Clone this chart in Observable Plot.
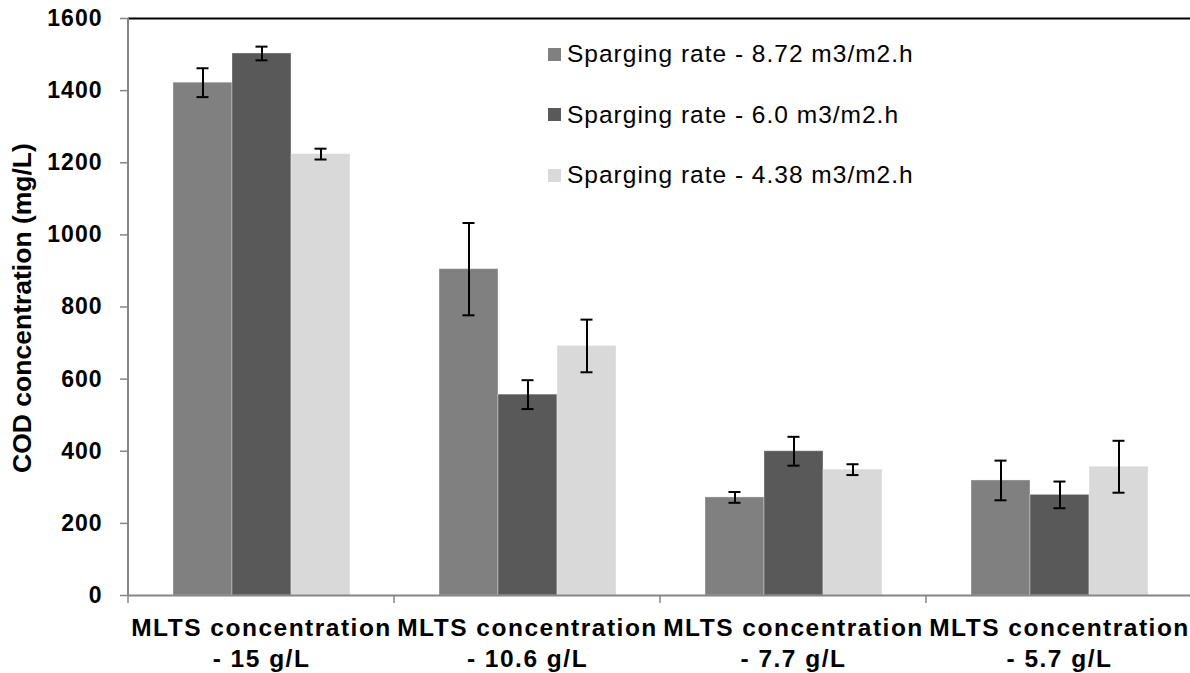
<!DOCTYPE html>
<html>
<head>
<meta charset="utf-8">
<script src="https://cdn.jsdelivr.net/npm/d3@7"></script>
<script src="https://cdn.jsdelivr.net/npm/@observablehq/plot@0.6"></script>
<style>
  body { margin: 0; background: #fff; }
  #wrap { position: relative; width: 1190px; height: 673px; overflow: hidden; font-family: "Liberation Sans", Arial, sans-serif; }
  #wrap svg { position: absolute; left: 0; top: 0; }
  #wrap svg g[aria-label="fx-axis tick label"] text { letter-spacing: 1.5px; }
  #wrap svg g[aria-label="y-axis tick label"] text { letter-spacing: 1px; }
  .ytitle { position: absolute; left: -178px; top: 293px; width: 400px; height: 30px; line-height: 30px;
            text-align: center; transform: rotate(-90deg); font-weight: bold; font-size: 26.5px; color: #000; }
  .legend { position: absolute; left: 548px; top: 24px; }
  .legend .row { display: flex; align-items: center; height: 60.5px; font-size: 24.5px; line-height: 24.5px; letter-spacing: 1px; color: #000; }
  .legend .sw { width: 13px; height: 13px; margin-right: 6px; flex: none; }
</style>
</head>
<body>
<div id="wrap"></div>
<script>
// MLTS concentration groups (x axis) and sparging-rate series
const groups = [
  "MLTS concentration\n- 15 g/L",
  "MLTS concentration\n- 10.6 g/L",
  "MLTS concentration\n- 7.7 g/L",
  "MLTS concentration\n- 5.7 g/L"
];
const series = [
  "Sparging rate - 8.72 m3/m2.h",
  "Sparging rate - 6.0 m3/m2.h",
  "Sparging rate - 4.38 m3/m2.h"
];
const colors = ["#808080", "#595959", "#d9d9d9"];

// COD concentration (mg/L), one array per sparging rate, in group order
const cod872 = [1422, 905, 272, 319];
const cod60  = [1503, 557, 400, 279];
const cod438 = [1224, 692, 349, 357];

// standard deviations
const err872 = [40, 128, 15, 55];
const err60  = [19, 40, 40, 37];
const err438 = [15, 73, 15, 72];

const yTicks = [0, 200, 400, 600, 800, 1000, 1200, 1400, 1600];
const yTitle = "COD concentration (mg/L)";

const codBySeries = [cod872, cod60, cod438];
const errBySeries = [err872, err60, err438];
const rows = [];
groups.forEach((g, gi) => {
  series.forEach((s, si) => {
    rows.push({group: g, series: s, cod: codBySeries[si][gi], err: errBySeries[si][gi]});
  });
});

const font = "'Liberation Sans', Arial, sans-serif";

const chart = Plot.plot({
  width: 1190,
  height: 673,
  marginLeft: 126,
  marginRight: -3,
  marginTop: 18,
  marginBottom: 78,
  style: {fontFamily: font, background: "transparent", color: "#000", overflow: "visible"},
  fx: {domain: groups, padding: 0, label: null},
  x: {domain: series, paddingInner: 0, paddingOuter: 0.75, axis: null},
  y: {domain: [0, 1600], label: null},
  color: {domain: series, range: colors},
  marks: [
    Plot.barY(rows, {fx: "group", x: "series", y: "cod", fill: "series", stroke: "#ffffff", strokeOpacity: 0.35, strokeWidth: 1}),
    Plot.ruleY([0], {stroke: "#868686", strokeWidth: 2}),
    Plot.ruleY([1600], {stroke: "#000", strokeWidth: 2}),
    // error bars
    Plot.ruleX(rows, {fx: "group", x: "series", y1: d => d.cod - d.err, y2: d => d.cod + d.err, stroke: "#000", strokeWidth: 2}),
    Plot.tickY(rows, {fx: "group", x: "series", y: d => d.cod - d.err, stroke: "#000", strokeWidth: 2, insetLeft: 23.5, insetRight: 23.5}),
    Plot.tickY(rows, {fx: "group", x: "series", y: d => d.cod + d.err, stroke: "#000", strokeWidth: 2, insetLeft: 23.5, insetRight: 23.5}),
    Plot.axisY({ticks: yTicks, tickFormat: d => String(d), tickSize: 8, tickPadding: 18,
                fontSize: 23, fontWeight: "bold", stroke: "#868686", strokeWidth: 1.5, fill: "#000", label: null}),
    Plot.axisFx({anchor: "bottom", tickSize: 0, tickPadding: 19, fontSize: 24.5, fontWeight: "bold",
                 lineHeight: 1.25, fill: "#000", label: null})
  ]
});

// y-axis line and category boundary ticks along the x axis
const fx = chart.scale("fx");
const y = chart.scale("y");
const y0 = y.apply(0);
const y1 = y.apply(1600);
const left = fx.apply(groups[0]);
const bounds = groups.map(g => fx.apply(g)).concat([fx.apply(groups[groups.length - 1]) + fx.step]);
const svg = d3.select(chart);
svg.append("line")
  .attr("x1", left).attr("x2", left).attr("y1", y1).attr("y2", y0 + 1)
  .attr("stroke", "#868686").attr("stroke-width", 2);
svg.append("g").selectAll("line").data(bounds).join("line")
  .attr("x1", d => d).attr("x2", d => d).attr("y1", y0).attr("y2", y0 + 8)
  .attr("stroke", "#868686").attr("stroke-width", 1.5);

const wrap = document.getElementById("wrap");
wrap.appendChild(chart);

// rotated y-axis title
const title = document.createElement("div");
title.className = "ytitle";
title.textContent = yTitle;
wrap.appendChild(title);

// legend inside the plot area
const legend = document.createElement("div");
legend.className = "legend";
series.forEach((s, i) => {
  const row = document.createElement("div");
  row.className = "row";
  const sw = document.createElement("span");
  sw.className = "sw";
  sw.style.background = colors[i];
  const label = document.createElement("span");
  label.textContent = s;
  row.appendChild(sw);
  row.appendChild(label);
  legend.appendChild(row);
});
wrap.appendChild(legend);
</script>
</body>
</html>
